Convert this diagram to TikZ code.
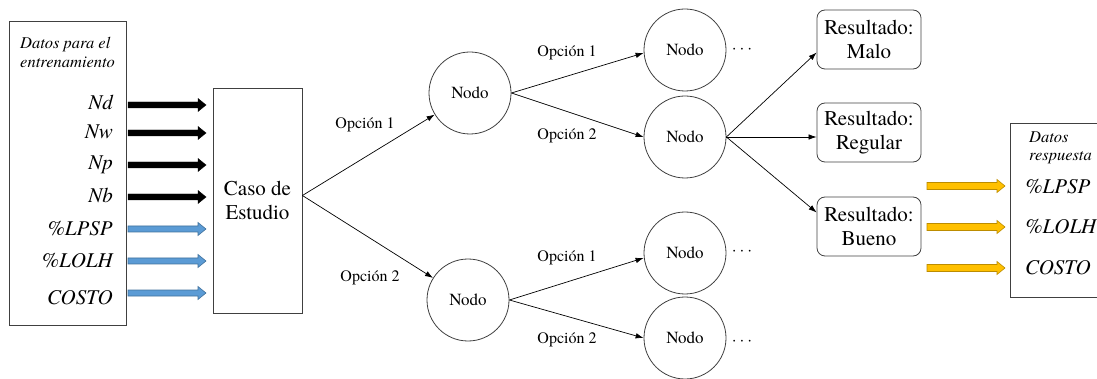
\documentclass[tikz,border=0pt]{standalone}
\usepackage{fontspec}
\setmainfont{texgyretermes}[
	Extension=.otf,
	UprightFont=*-regular,
	BoldFont=*-bold,
	ItalicFont=*-italic,
	BoldItalicFont=*-bolditalic]
\usetikzlibrary{calc,arrows.meta,positioning}

\definecolor{azulflecha}{HTML}{5B9BD5}
\definecolor{azulborde}{HTML}{41719C}
\definecolor{amarilloflecha}{HTML}{FFC000}
\definecolor{amarilloborde}{HTML}{BC8C00}
\definecolor{gris}{HTML}{404040}

% flecha de bloque: [medio grosor], estilo, cola, punta
\newcommand{\flechabloque}[4][3]{%
	\draw[#2] ($(#3)+(0,-#1)$) -- ($(#4)+(-8,-#1)$) -- ($(#4)+(-8,-6.5)$) -- (#4)
		-- ($(#4)+(-8,6.5)$) -- ($(#4)+(-8,#1)$) -- ($(#3)+(0,#1)$) -- cycle;}

\begin{document}
\begin{tikzpicture}[x=1pt,y=-1pt,
		caja/.style={draw=gris,line width=0.8pt},
		nodo/.style={circle,draw=gris,line width=0.8pt,minimum size=82pt,inner sep=0pt,font=\fontsize{17}{20}\selectfont},
		resultado/.style={draw=gris,line width=0.8pt,rounded corners=8pt,minimum width=104pt,minimum height=59pt,align=center,font=\fontsize{21}{24}\selectfont},
		opcion/.style={font=\fontsize{16}{19}\selectfont},
		puntos/.style={font=\fontsize{16}{19}\selectfont},
		rama/.style={-{Latex[length=8pt,width=5.5pt]},line width=0.7pt},
		var/.style={font=\itshape\fontsize{21}{24}\selectfont,inner sep=0pt},
		nota/.style={font=\itshape\fontsize{16.5}{19}\selectfont,inner sep=0pt,anchor=base west},
		negra/.style={fill=black,draw=black,line width=0.4pt},
		azul/.style={fill=azulflecha,draw=azulborde,line width=0.6pt},
		amarilla/.style={fill=amarilloflecha,draw=amarilloborde,line width=0.6pt}]
	\useasboundingbox (0,0) rectangle (1097,379);

	% datos de entrada
	\node[caja,minimum width=117pt,minimum height=304pt] (datos) at (67.5,173) {};
	\node[nota] (dat1) at (20,49) {Datos para el};
	\node[nota] (dat2) at (20,68) {entrenamiento};
	\foreach \ya/\yb/\lab/\est [count=\i] in {105/110/Nd/negra, 133/139/Nw/negra, 165/170/Np/negra, 197/203/Nb/negra,
			229/236/\%LPSP/azul, 261/268/\%LOLH/azul, 293/304/COSTO/azul} {
		\node[var,anchor=base east] (v\i) at (113,\yb) {\lab};
		\coordinate (c\i) at (128,\ya);
		\coordinate (p\i) at (206,\ya);
		\flechabloque{\est}{c\i}{p\i}
	}

	\node[caja,minimum width=89pt,minimum height=225pt,align=center,font=\fontsize{21}{24}\selectfont] (caso) at (257.5,200.5) {Caso de\\Estudio};

	% arbol de decision
	\node[nodo] (n1) at (470,93) {Nodo};
	\node[nodo] (n2) at (468,300) {Nodo};
	\node[nodo] (n11) at (685,50) {Nodo};
	\node[nodo] (n12) at (685,137) {Nodo};
	\node[nodo] (n21) at (685,253) {Nodo};
	\node[nodo] (n22) at (685,338) {Nodo};
	\node[puntos] (d11) at (742,50) {$\cdots$};
	\node[puntos] (d21) at (742,252) {$\cdots$};
	\node[puntos] (d22) at (742,342) {$\cdots$};

	\draw[rama] ([yshift=5pt]caso.east) -- (n1);
	\draw[rama] ([yshift=5pt]caso.east) -- (n2);
	\draw[rama] (n1.east) -- ([yshift=-3pt]n11.west);
	\draw[rama] (n1.east) -- (n12.west);
	\draw[rama] (n2.east) -- ([yshift=-5pt]n21.west);
	\draw[rama] (n2.east) -- (n22.west);

	\node[opcion] (o1) at (365,125) {Opción 1};
	\node[opcion] (o2) at (370,278) {Opción 2};
	\node[opcion] (o11) at (567,53) {Opción 1};
	\node[opcion] (o12) at (567,136) {Opción 2};
	\node[opcion] (o21) at (567,258) {Opción 1};
	\node[opcion] (o22) at (567,340) {Opción 2};

	% resultados
	\node[resultado] (malo) at (869,39.5) {Resultado:\\Malo};
	\node[resultado] (regular) at (869,132.5) {Resultado:\\Regular};
	\node[resultado] (bueno) at (869,226.5) {Resultado:\\Bueno};
	\draw[rama] (n12.east) -- ([yshift=-13pt]malo.west);
	\draw[rama] (n12.east) -- (n12.east -| regular.west);
	\draw[rama] (n12.east) -- ([yshift=14pt]bueno.west);

	% datos de salida
	\draw[caja] (1097,123) -- (1010,123) -- (1010,297) -- (1097,297);
	\node[nota] (resp1) at (1029,143) {Datos};
	\node[nota] (resp2) at (1029,161) {respuesta};
	\foreach \ya/\yb/\lab [count=\i] in {186/194/\%LPSP, 227/234/\%LOLH, 268/275/COSTO} {
		\coordinate (s\i) at (927,\ya);
		\coordinate (t\i) at (1005,\ya);
		\flechabloque[3.5]{amarilla}{s\i}{t\i}
		\node[var,anchor=base west] (r\i) at (1025,\yb) {\lab};
	}
\end{tikzpicture}
\end{document}
